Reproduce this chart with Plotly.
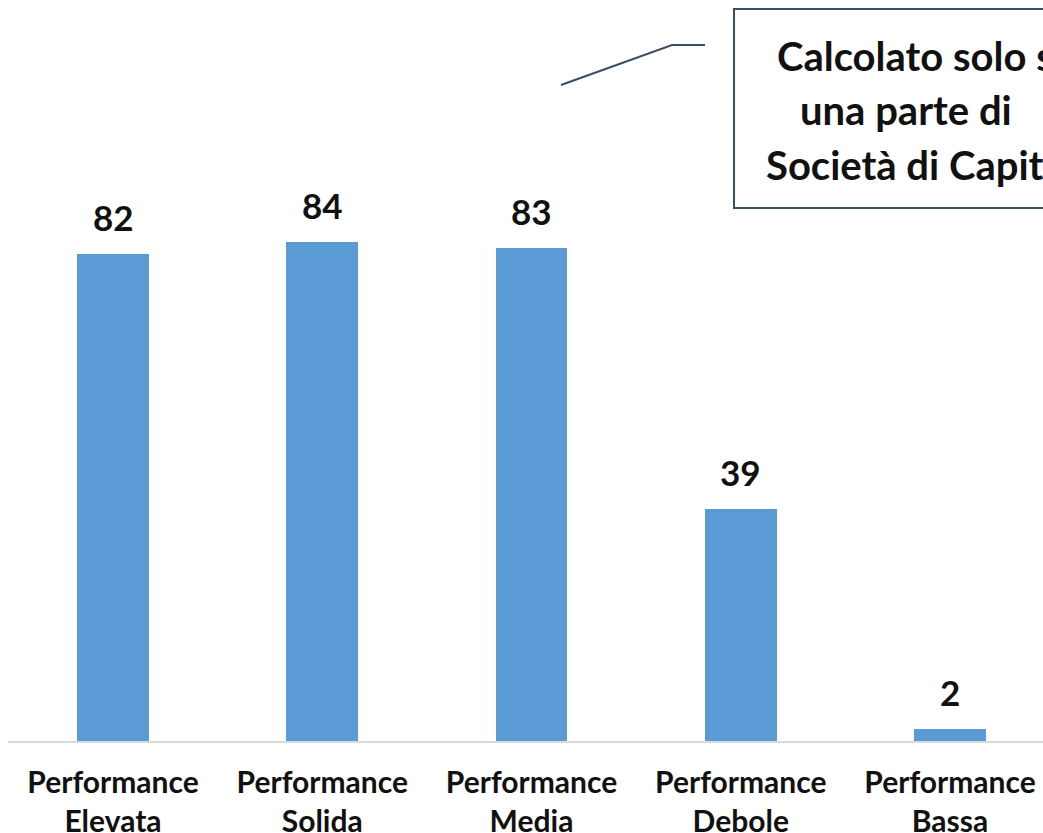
import plotly.graph_objects as go

categories = ["Performance<br>Elevata", "Performance<br>Solida", "Performance<br>Media",
              "Performance<br>Debole", "Performance<br>Bassa"]
values = [82, 84, 83, 39, 2]
note_lines = ["Calcolato solo su", "una parte di", "Società di Capitali"]

W, H = 1043, 833
L, B = 8, 92
plot_w = W - L
plot_h = H - B
STEP = 209.25      # px per category
PX_PER_UNIT = 5.94

bar_color = "#5B9BD5"
dark = "#3A5068"
FONT = "Lato"

x_idx = list(range(len(categories)))

fig = go.Figure()
fig.add_trace(go.Bar(x=x_idx, y=values, marker=dict(color=bar_color, line=dict(width=0)),
                     width=0.344, hoverinfo="skip"))

for xi, v in zip(x_idx, values):
    fig.add_annotation(x=xi, y=v, text=str(v), showarrow=False, yanchor="bottom",
                       yshift=14, font=dict(family=FONT, size=35, color="#111111", weight="bold"))

def px_x(p):
    return (p - L) / plot_w

def px_y(p):
    return (H - B - p) / plot_h

# callout box
fig.add_shape(type="rect", xref="paper", yref="paper",
              x0=px_x(734), x1=px_x(1090), y0=px_y(208), y1=px_y(9),
              line=dict(color=dark, width=2), fillcolor="white")
line_left = [775, 798, 764]
line_mid = [56, 110, 165]
for txt, lx, ly in zip(note_lines, line_left, line_mid):
    fig.add_annotation(xref="paper", yref="paper", x=px_x(lx), y=px_y(ly),
                       text=txt, showarrow=False, xanchor="left", yanchor="middle",
                       font=dict(family=FONT, size=40, color="#111111", weight="bold"))
fig.add_shape(type="path", xref="paper", yref="paper",
              path=f"M {px_x(561)},{px_y(85)} L {px_x(672)},{px_y(45)} L {px_x(705)},{px_y(45)}",
              line=dict(color=dark, width=2.2))

r0 = -(113 - L) / STEP
fig.update_layout(
    width=W, height=H,
    margin=dict(l=L, r=0, t=0, b=B, autoexpand=False),
    plot_bgcolor="white", paper_bgcolor="white",
    showlegend=False,
    bargap=0,
    xaxis=dict(range=[r0, r0 + plot_w / STEP], automargin=False,
               tickmode="array", tickvals=x_idx, ticktext=categories,
               showline=True, linecolor="#D9D9D9", linewidth=2, ticks="",
               ticklabelstandoff=14,
               showgrid=False, zeroline=False,
               tickfont=dict(family=FONT, size=30, color="#111111", weight="bold")),
    yaxis=dict(range=[0, plot_h / PX_PER_UNIT], visible=False, automargin=False,
               showgrid=False, zeroline=False),
)

page_js = ("document.body.style.margin='0';"
           "document.documentElement.style.overflow='hidden';"
           "document.body.style.overflow='hidden';")
fig.write_html("out.html", post_script=page_js, config={"displayModeBar": False})
